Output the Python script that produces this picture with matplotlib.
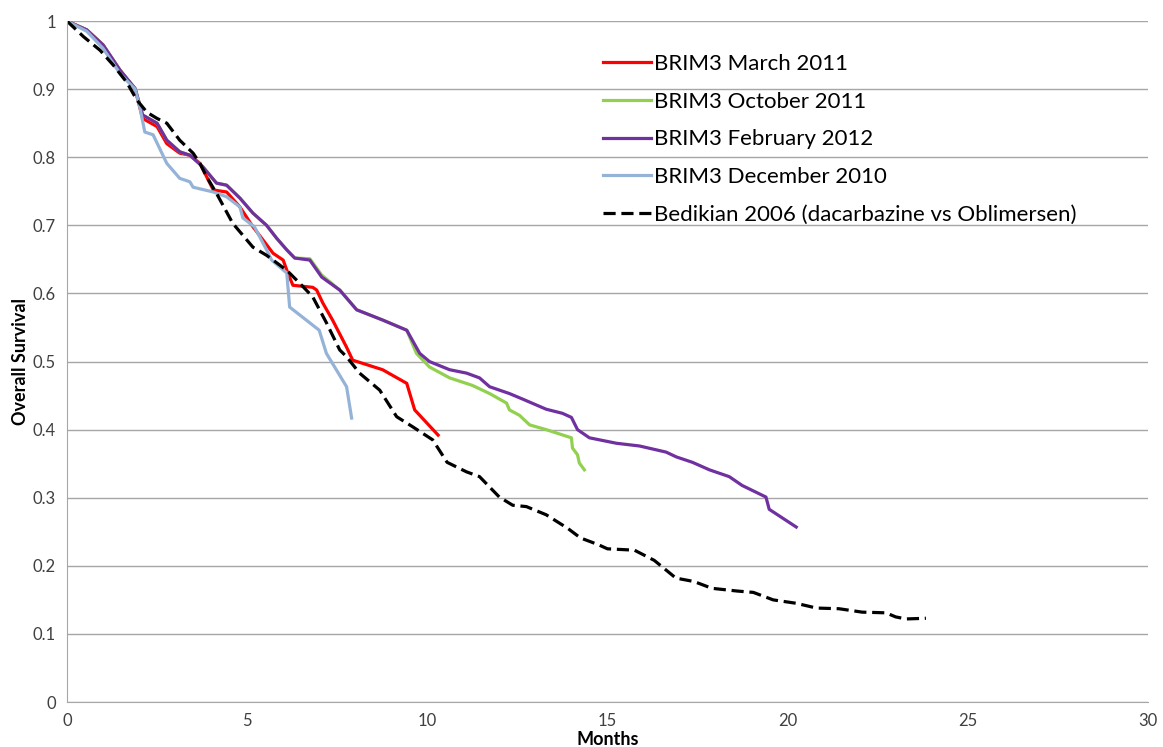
import matplotlib
matplotlib.use("Agg")
import matplotlib.pyplot as plt

plt.rcParams['font.family'] = ['Lato', 'DejaVu Sans']

# BRIM3 March 2011
march_x = [0, 0.55, 1.0, 1.47, 1.89, 2.1, 2.5, 2.77, 3.13, 3.41, 3.69, 4.06, 4.43, 4.8,
           5.16, 5.72, 6.0, 6.13, 6.27, 6.82, 6.93, 7.1, 7.37, 7.76, 7.93, 8.76, 9.43,
           9.65, 10.3]
march_y = [1, 0.987, 0.965, 0.928, 0.9, 0.857, 0.845, 0.82, 0.806, 0.803, 0.791, 0.752,
           0.749, 0.727, 0.698, 0.659, 0.649, 0.63, 0.612, 0.609, 0.605, 0.586, 0.561,
           0.521, 0.502, 0.488, 0.468, 0.429, 0.392]

# BRIM3 October 2011
oct_x = [0, 0.55, 1.0, 1.47, 1.89, 2.1, 2.5, 2.77, 3.13, 3.41, 3.77, 4.15, 4.43, 4.8,
         5.16, 5.54, 5.82, 6.1, 6.32, 6.74, 7.07, 7.57, 8.04, 8.76, 9.43, 9.7, 10.06,
         10.62, 11.25, 11.73, 12.2, 12.28, 12.56, 12.84, 13.3, 14.0, 14.03, 14.17,
         14.22, 14.36]
oct_y = [1, 0.987, 0.965, 0.928, 0.901, 0.862, 0.85, 0.825, 0.808, 0.803, 0.786, 0.762,
         0.759, 0.74, 0.718, 0.7, 0.681, 0.664, 0.652, 0.651, 0.627, 0.605, 0.576,
         0.561, 0.546, 0.512, 0.492, 0.476, 0.465, 0.453, 0.439, 0.429, 0.421, 0.407,
         0.4, 0.388, 0.373, 0.363, 0.351, 0.341]

# BRIM3 February 2012
feb_x = [0, 0.55, 1.0, 1.47, 1.89, 2.1, 2.5, 2.77, 3.13, 3.41, 3.77, 4.15, 4.43, 4.8,
         5.16, 5.54, 5.82, 6.1, 6.32, 6.74, 7.07, 7.57, 8.04, 8.76, 9.43, 9.79, 10.06,
         10.62, 11.09, 11.45, 11.73, 12.28, 12.64, 13.3, 13.75, 14.0, 14.17, 14.5,
         15.25, 15.89, 16.63, 16.91, 17.36, 17.83, 18.38, 18.74, 19.4, 19.49, 20.24]
feb_y = [1, 0.987, 0.965, 0.928, 0.901, 0.862, 0.85, 0.825, 0.808, 0.803, 0.786, 0.762,
         0.759, 0.74, 0.718, 0.7, 0.681, 0.664, 0.652, 0.649, 0.624, 0.605, 0.576,
         0.561, 0.546, 0.512, 0.5, 0.488, 0.483, 0.476, 0.463, 0.453, 0.445, 0.43,
         0.424, 0.418, 0.4, 0.388, 0.38, 0.376, 0.367, 0.36, 0.352, 0.341, 0.331,
         0.318, 0.301, 0.283, 0.257]

# BRIM3 December 2010
dec_x = [0, 0.55, 1.0, 1.47, 1.89, 2.02, 2.16, 2.39, 2.77, 3.13, 3.41, 3.5, 4.06, 4.43,
         4.8, 4.88, 5.2, 5.54, 5.68, 6.1, 6.18, 7.0, 7.2, 7.76, 7.9]
dec_y = [1, 0.985, 0.96, 0.923, 0.9, 0.874, 0.837, 0.833, 0.791, 0.769, 0.764, 0.756,
         0.749, 0.742, 0.727, 0.711, 0.698, 0.664, 0.649, 0.63, 0.58, 0.546, 0.512,
         0.463, 0.417]

# Bedikian 2006
bed_x = [0, 0.46, 0.92, 1.29, 1.66, 1.94, 2.22, 2.5, 2.77, 3.13, 3.5, 3.69, 3.88, 4.15,
         4.6, 5.16, 5.54, 6.1, 6.46, 6.82, 7.2, 7.57, 7.76, 8.12, 8.68, 9.15, 9.6,
         10.15, 10.55, 11.09, 11.45, 12.0, 12.37, 12.75, 13.3, 13.9, 14.25, 14.75,
         15.0, 15.75, 16.3, 16.9, 17.4, 17.9, 18.6, 19.05, 19.6, 20.24, 20.8, 21.43,
         22.07, 22.73, 23.0, 23.29, 23.84]
bed_y = [1, 0.977, 0.957, 0.935, 0.91, 0.884, 0.866, 0.857, 0.85, 0.825, 0.806, 0.791,
         0.771, 0.747, 0.703, 0.668, 0.656, 0.634, 0.615, 0.595, 0.557, 0.517, 0.507,
         0.483, 0.458, 0.419, 0.404, 0.385, 0.352, 0.338, 0.331, 0.301, 0.289, 0.287,
         0.275, 0.255, 0.241, 0.231, 0.225, 0.223, 0.208, 0.182, 0.177, 0.167, 0.163,
         0.161, 0.15, 0.145, 0.138, 0.137, 0.132, 0.131, 0.125, 0.122, 0.123]

x_ticks = [0, 5, 10, 15, 20, 25, 30]
y_ticks = [0, 0.1, 0.2, 0.3, 0.4, 0.5, 0.6, 0.7, 0.8, 0.9, 1]
y_labels = ['0', '0.1', '0.2', '0.3', '0.4', '0.5', '0.6', '0.7', '0.8', '0.9', '1']

fig = plt.figure(figsize=(11.63, 7.47), dpi=100)
ax = fig.add_axes([0.0576, 0.0602, 0.9294, 0.9116])

lw = 2.3
ax.plot(march_x, march_y, color='#FF0000', lw=lw, label='BRIM3 March 2011')
ax.plot(oct_x, oct_y, color='#92D050', lw=lw, label='BRIM3 October 2011')
ax.plot(feb_x, feb_y, color='#7030A0', lw=lw, label='BRIM3 February 2012')
ax.plot(dec_x, dec_y, color='#95B3D7', lw=lw, label='BRIM3 December 2010')
ax.plot(bed_x, bed_y, color='black', lw=lw, ls=(0, (3.8, 1.8)),
        label='Bedikian 2006 (dacarbazine vs Oblimersen)')

ax.set_xlim(0, 30)
ax.set_ylim(0, 1)
ax.set_xticks(x_ticks)
ax.set_yticks(y_ticks)
ax.set_yticklabels(y_labels)
ax.tick_params(length=0, labelsize=12, colors='#404040', pad=8)
ax.grid(axis='y', color='#A6A6A6', lw=1)
ax.set_axisbelow(True)
for s in ['top', 'right']:
    ax.spines[s].set_visible(False)
ax.spines['left'].set_color('#A6A6A6')
ax.spines['bottom'].set_color('#A6A6A6')

ax.set_xlabel('Months', fontsize=13, fontweight='bold', labelpad=1)
ax.set_ylabel('Overall Survival', fontsize=13, fontweight='bold', labelpad=3)

ax.legend(loc='upper left', bbox_to_anchor=(0.496, 0.952), frameon=False,
          fontsize=16, handlelength=2.15, handletextpad=0.15, labelspacing=0.8,
          borderpad=0, borderaxespad=0)

fig.savefig('out.png', dpi=100, facecolor='white')
